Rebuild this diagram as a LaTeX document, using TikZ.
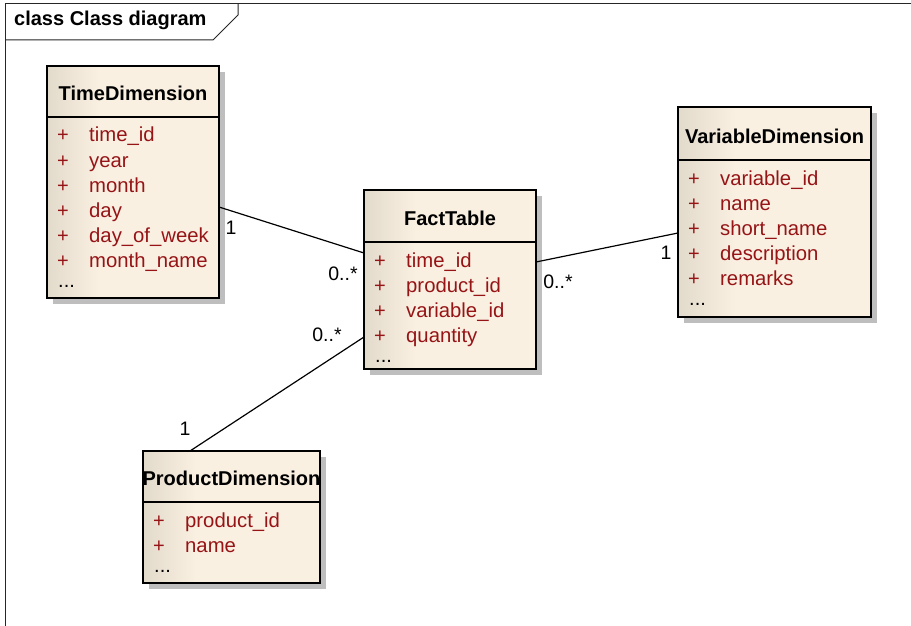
\documentclass[tikz,border=0pt]{standalone}
\usepackage{fontspec}
\setmainfont{Liberation Sans}
\usetikzlibrary{shadows}
\definecolor{attr}{RGB}{150,20,22}
\definecolor{fillL}{RGB}{226,218,203}
\definecolor{fillR}{RGB}{250,240,226}
\definecolor{shadowgray}{RGB}{190,190,190}
\pgfdeclarehorizontalshading{umlfill}{100bp}{color(0bp)=(fillL); color(25bp)=(fillL); color(40bp)=(fillR); color(100bp)=(fillR)}
\tikzset{
  classbox/.style={draw=black, line width=1.2pt, shading=umlfill, shading angle=0,
    inner sep=0pt, outer sep=0pt, anchor=north west,
    general shadow={fill=shadowgray, shadow xshift=6pt, shadow yshift=-6pt}},
  boxline/.style={draw=black, line width=1.2pt},
  headtxt/.style={font=\fontsize{20}{24}\selectfont\bfseries, inner sep=0pt, anchor=base},
  plustxt/.style={font=\fontsize{20}{25}\selectfont, text=attr, inner sep=0pt, anchor=base west},
  attrtxt/.style={font=\fontsize{20.3}{25}\selectfont, text=attr, inner sep=0pt, anchor=base west},
  dotstxt/.style={font=\fontsize{20}{25}\selectfont, inner sep=0pt, anchor=base west},
  multtxt/.style={font=\fontsize{19.5}{24}\selectfont, inner sep=0pt},
  assoc/.style={draw=black, line width=1.2pt},
  frameline/.style={draw=black!85, line width=1pt},
}
% name, left, top, right, bottom, divider, title, attrs, count
\newcommand\umlclass[9]{%
  \node[classbox, minimum width={(#4-#2)*1pt}, minimum height={(#5-#3)*1pt}] (#1) at (#2,#3) {};
  \draw[boxline] (#1.west |- 0,#6) -- (#1.east |- 0,#6);
  \node[headtxt] (#1-title) at ({(#2+#4)/2},#6-17) {#7};
  \foreach \a [count=\i] in {#8} {
    \node[plustxt] (#1-p\i) at (#2+10,#6+25*\i) {+};
    \node[attrtxt] (#1-a\i) at (#2+42,#6+25*\i) {\a};
  }
  \node[dotstxt] (#1-dots) at (#2+11,#6+25*#9+20) {...};
}
\begin{document}
\begin{tikzpicture}[x=1pt,y=-1pt]
\useasboundingbox (0,0) rectangle (911,626);
\fill[white] (0,0) rectangle (911,626);
% frame
\draw[frameline] (5,626) -- (5,4) -- (911,4);
\draw[frameline] (5,40) -- (213,40) -- (238,15) -- (238,4);
\node[font=\fontsize{20}{24}\selectfont\bfseries, inner sep=0pt, anchor=base west] (frametitle) at (14,26) {class Class diagram};
% classes
\umlclass{time}{47}{66}{219}{298}{117}{TimeDimension}{time\_id,year,month,day,day\_of\_week,month\_name}{6}
\umlclass{fact}{364}{190}{536}{369}{242}{FactTable}{time\_id,product\_id,variable\_id,quantity}{4}
\umlclass{var}{678}{107}{871}{317}{160}{VariableDimension}{variable\_id,name,short\_name,description,remarks}{5}
\umlclass{prod}{143}{451}{320}{583}{502}{ProductDimension}{product\_id,name}{2}
% associations
\draw[assoc] ([yshift=-141pt]time.north east) -- ([yshift=-63pt]fact.north west);
\draw[assoc] ([yshift=-72pt]fact.north east) -- ([yshift=-126pt]var.north west);
\draw[assoc] ([yshift=-147pt]fact.north west) -- ([xshift=47pt]prod.north west);
% multiplicities
\node[multtxt] (m1) at (231,228) {1};
\node[multtxt] (m2) at (343,274) {0..*};
\node[multtxt] (m3) at (558,282) {0..*};
\node[multtxt] (m4) at (666,253) {1};
\node[multtxt] (m5) at (327,335) {0..*};
\node[multtxt] (m6) at (185,429) {1};
\end{tikzpicture}
\end{document}
